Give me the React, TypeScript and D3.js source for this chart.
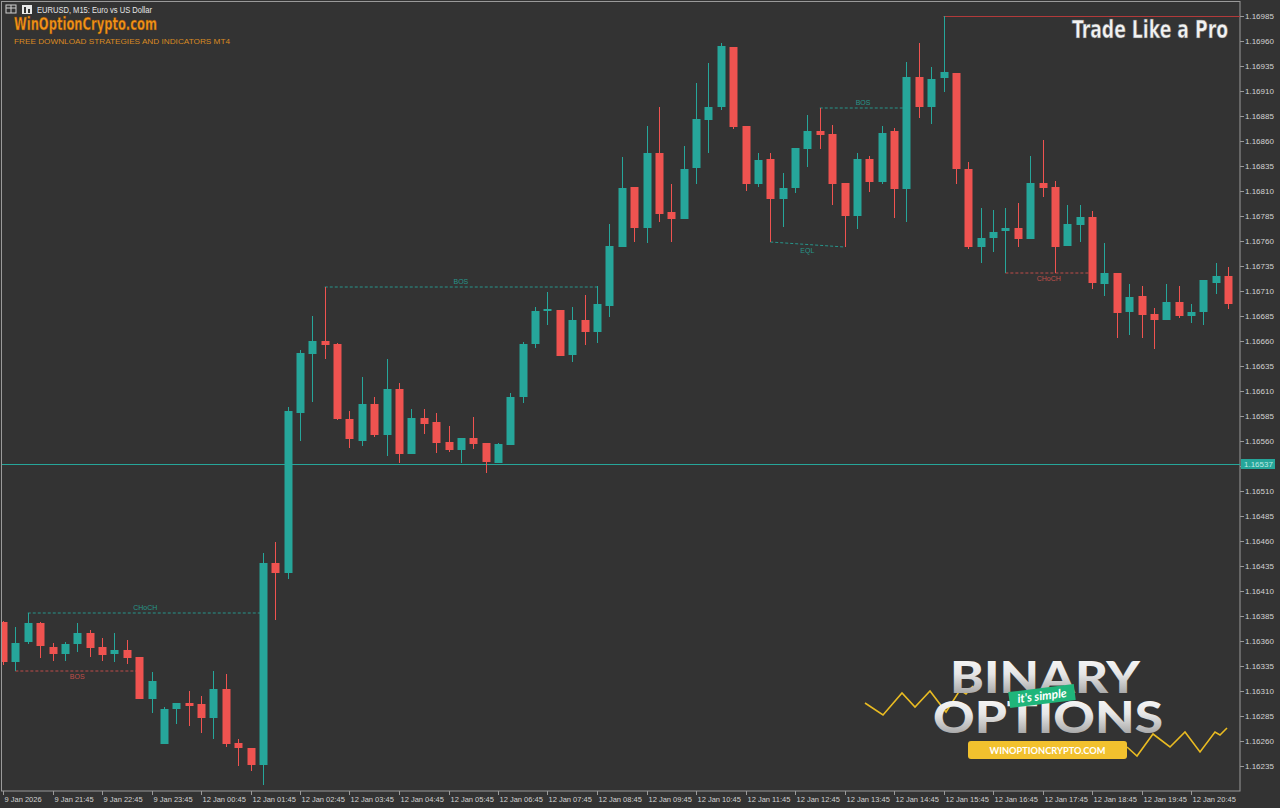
import React from "react";
import * as d3 from "d3";

const W = 1280;
const H = 808;

// ---- Data (EURUSD M15) ----
const opens = [
  1.16379, 1.16339, 1.16359, 1.16378, 1.16354, 1.16347, 1.16357, 1.16368, 1.16354, 1.16347,
  1.16351, 1.16344, 1.16302, 1.16257, 1.16292, 1.16298, 1.16297, 1.16283, 1.16312, 1.16258,
  1.16253, 1.16236, 1.16438, 1.16428, 1.16588, 1.16647, 1.16660, 1.16657, 1.16582, 1.16560,
  1.16597, 1.16566, 1.16612, 1.16547, 1.16583, 1.16579, 1.16559, 1.16551, 1.16563, 1.16558,
  1.16538, 1.16556, 1.16604, 1.16657, 1.16690, 1.16691, 1.16646, 1.16681, 1.16669, 1.16695,
  1.16754, 1.16814, 1.16773, 1.16848, 1.16789, 1.16782, 1.16833, 1.16881, 1.16894, 1.16954,
  1.16875, 1.16817, 1.16842, 1.16802, 1.16813, 1.16852, 1.16870, 1.16867, 1.16818, 1.16785,
  1.16842, 1.16819, 1.16870, 1.16812, 1.16924, 1.16894, 1.16923, 1.16928, 1.16832, 1.16754,
  1.16763, 1.16770, 1.16773, 1.16762, 1.16818, 1.16814, 1.16755, 1.16776, 1.16784, 1.16717,
  1.16728, 1.16689, 1.16705, 1.16687, 1.16681, 1.16699, 1.16685, 1.16689, 1.16718, 1.16725,
];
const highs = [
  1.16380, 1.16374, 1.16388, 1.16379, 1.16358, 1.16359, 1.16378, 1.16371, 1.16363, 1.16368,
  1.16361, 1.16344, 1.16329, 1.16294, 1.16298, 1.16310, 1.16305, 1.16330, 1.16327, 1.16262,
  1.16253, 1.16448, 1.16459, 1.16594, 1.16651, 1.16685, 1.16714, 1.16658, 1.16590, 1.16624,
  1.16604, 1.16642, 1.16618, 1.16592, 1.16592, 1.16588, 1.16575, 1.16563, 1.16584, 1.16558,
  1.16558, 1.16608, 1.16659, 1.16694, 1.16709, 1.16691, 1.16694, 1.16706, 1.16715, 1.16777,
  1.16844, 1.16814, 1.16875, 1.16894, 1.16817, 1.16855, 1.16918, 1.16938, 1.16958, 1.16954,
  1.16875, 1.16848, 1.16848, 1.16828, 1.16853, 1.16886, 1.16893, 1.16876, 1.16818, 1.16848,
  1.16845, 1.16875, 1.16873, 1.16939, 1.16958, 1.16934, 1.16985, 1.16928, 1.16839, 1.16793,
  1.16791, 1.16793, 1.16798, 1.16845, 1.16861, 1.16820, 1.16796, 1.16796, 1.16790, 1.16758,
  1.16728, 1.16717, 1.16715, 1.16693, 1.16717, 1.16715, 1.16697, 1.16721, 1.16738, 1.16734,
];
const lows = [
  1.16336, 1.16330, 1.16357, 1.16343, 1.16340, 1.16340, 1.16349, 1.16344, 1.16340, 1.16339,
  1.16337, 1.16302, 1.16288, 1.16257, 1.16277, 1.16275, 1.16268, 1.16262, 1.16254, 1.16235,
  1.16230, 1.16216, 1.16381, 1.16422, 1.16560, 1.16599, 1.16642, 1.16581, 1.16553, 1.16555,
  1.16564, 1.16545, 1.16538, 1.16547, 1.16567, 1.16548, 1.16549, 1.16538, 1.16552, 1.16528,
  1.16538, 1.16556, 1.16598, 1.16653, 1.16676, 1.16645, 1.16639, 1.16656, 1.16658, 1.16684,
  1.16754, 1.16759, 1.16758, 1.16779, 1.16759, 1.16782, 1.16817, 1.16848, 1.16891, 1.16872,
  1.16810, 1.16814, 1.16759, 1.16774, 1.16808, 1.16834, 1.16852, 1.16796, 1.16754, 1.16772,
  1.16809, 1.16817, 1.16783, 1.16779, 1.16883, 1.16877, 1.16909, 1.16817, 1.16752, 1.16738,
  1.16749, 1.16728, 1.16754, 1.16762, 1.16804, 1.16728, 1.16755, 1.16759, 1.16712, 1.16705,
  1.16663, 1.16666, 1.16663, 1.16652, 1.16681, 1.16683, 1.16678, 1.16676, 1.16707, 1.16692,
];
const closes = [
  1.16339, 1.16358, 1.16378, 1.16355, 1.16347, 1.16357, 1.16368, 1.16353, 1.16346, 1.16351,
  1.16343, 1.16302, 1.16320, 1.16292, 1.16298, 1.16295, 1.16283, 1.16312, 1.16257, 1.16253,
  1.16236, 1.16438, 1.16428, 1.16590, 1.16648, 1.16660, 1.16656, 1.16582, 1.16562, 1.16597,
  1.16566, 1.16612, 1.16547, 1.16583, 1.16577, 1.16558, 1.16551, 1.16563, 1.16557, 1.16539,
  1.16557, 1.16604, 1.16657, 1.16690, 1.16692, 1.16645, 1.16681, 1.16669, 1.16697, 1.16755,
  1.16813, 1.16773, 1.16848, 1.16787, 1.16782, 1.16832, 1.16882, 1.16894, 1.16955, 1.16874,
  1.16817, 1.16841, 1.16802, 1.16813, 1.16853, 1.16870, 1.16866, 1.16817, 1.16785, 1.16842,
  1.16819, 1.16868, 1.16812, 1.16924, 1.16894, 1.16922, 1.16929, 1.16832, 1.16754, 1.16763,
  1.16769, 1.16773, 1.16762, 1.16818, 1.16813, 1.16754, 1.16777, 1.16784, 1.16718, 1.16728,
  1.16688, 1.16704, 1.16686, 1.16681, 1.16699, 1.16685, 1.16689, 1.16721, 1.16725, 1.16697,
];

// time labels, one per hour (every 4th M15 bar)
const timeLabels = [
  "9 Jan 2026", "9 Jan 21:45", "9 Jan 22:45", "9 Jan 23:45",
  "12 Jan 00:45", "12 Jan 01:45", "12 Jan 02:45", "12 Jan 03:45", "12 Jan 04:45",
  "12 Jan 05:45", "12 Jan 06:45", "12 Jan 07:45", "12 Jan 08:45", "12 Jan 09:45",
  "12 Jan 10:45", "12 Jan 11:45", "12 Jan 12:45", "12 Jan 13:45", "12 Jan 14:45",
  "12 Jan 15:45", "12 Jan 16:45", "12 Jan 17:45", "12 Jan 18:45", "12 Jan 19:45",
  "12 Jan 20:45",
];
const timeLabelBars = timeLabels.map((_, i) => i * 4);

// market structure markers
const structLabels = ["CHoCH", "BOS", "BOS", "EQL", "BOS", "CHoCH"];
const structFromBar = [2, 1, 26, 62, 66, 81];
const structToBar = [21, 11, 48, 68, 73, 88];
const structFromPrice = [1.16388, 1.1633, 1.16714, 1.16759, 1.16893, 1.16728];
const structToPrice = [1.16388, 1.1633, 1.16714, 1.16754, 1.16893, 1.16728];
const structBull = [true, false, true, true, true, false];
const structAbove = [true, false, true, false, true, false];

const highLineBar = 76;
const highLinePrice = 1.16985;
const hLinePrice = 1.16537;
const hLineLabel = "1.16537";

const priceMin = 1.16235;
const priceMax = 1.16985;
const priceStep = 0.00025;

// ---- Styles ----
const BG = "#333333";
const TEAL = "#26a69a";
const RED = "#ef5350";
const AXIS = "#9a9a9a";
const TXT = "#d2d2d2";
const ORANGE = "#f39419";
const YELLOW = "#e9bb22";

const PLOT_R = 1240;
const PLOT_B = 791;

const zigLeft: [number, number][] = [
  [865, 703], [883, 715], [902, 693], [915, 707], [930, 691], [946, 712], [960, 690], [966, 694], [973, 686],
];
const zigRight: [number, number][] = [
  [1127, 747], [1137, 756], [1153, 734], [1170, 747], [1185, 732], [1200, 752], [1215, 732], [1220, 735], [1227, 728],
];

export default function App() {
  const x = d3.scaleLinear().domain([0, 99]).range([3, 3 + 99 * 12.375]);
  const y = d3.scaleLinear().domain([priceMin, priceMax]).range([766, 16]);
  const bars = d3.range(opens.length);
  const priceTicks = d3.range(0, Math.round((priceMax - priceMin) / priceStep) + 1).map((k) => priceMax - k * priceStep);
  const line = d3.line<[number, number]>();
  const fmt = d3.format(".5f");
  const bodyW = 8;

  return (
    <svg
      width={W}
      height={H}
      style={{ position: "absolute", left: 0, top: 0, display: "block" }}
      fontFamily="'Liberation Sans', Arial, sans-serif"
    >
      <defs>
        <linearGradient id="logoGrad" x1="0" y1="0" x2="0" y2="1">
          <stop offset="0%" stopColor="#ffffff" />
          <stop offset="45%" stopColor="#e6e6e6" />
          <stop offset="100%" stopColor="#8e8e8e" />
        </linearGradient>
        <clipPath id="plotClip">
          <rect x={2} y={2} width={PLOT_R - 2} height={PLOT_B - 2} />
        </clipPath>
      </defs>
      <rect x={0} y={0} width={W} height={H} fill={BG} />

      {/* plot frame */}
      <rect x={1.5} y={1.5} width={PLOT_R - 1.5} height={PLOT_B - 1.5} fill="none" stroke={AXIS} strokeWidth={1} />

      <g clipPath="url(#plotClip)">
        {/* current horizontal level */}
        <line x1={2} x2={PLOT_R} y1={Math.round(y(hLinePrice)) + 0.5} y2={Math.round(y(hLinePrice)) + 0.5} stroke={TEAL} strokeWidth={1} />
        {/* high line */}
        <line x1={x(highLineBar)} x2={PLOT_R} y1={Math.round(y(highLinePrice)) + 0.5} y2={Math.round(y(highLinePrice)) + 0.5} stroke="#b23a3a" strokeWidth={1.2} />

        {/* structure markers */}
        {structLabels.map((lab, i) => {
          const c = structBull[i] ? TEAL : "#d9534f";
          const x1 = x(structFromBar[i]);
          const x2 = x(structToBar[i]);
          const y1 = y(structFromPrice[i]);
          const y2 = y(structToPrice[i]);
          const mx = (x1 + x2) / 2;
          const my = (y1 + y2) / 2;
          return (
            <g key={"s" + i} opacity={0.85}>
              <line x1={x1} x2={x2} y1={y1} y2={y2} stroke={c} strokeWidth={1} strokeDasharray="3,2" />
              <text x={mx} y={structAbove[i] ? my - 3 : my + 8} fill={c} fontSize={7} textAnchor="middle">
                {lab}
              </text>
            </g>
          );
        })}

        {/* candles */}
        {bars.map((i) => {
          const up = closes[i] >= opens[i];
          const c = up ? TEAL : RED;
          const cx = Math.round(x(i)) + 0.5;
          const top = y(Math.max(opens[i], closes[i]));
          const bot = y(Math.min(opens[i], closes[i]));
          return (
            <g key={"c" + i}>
              <line x1={cx} x2={cx} y1={y(highs[i])} y2={y(lows[i])} stroke={c} strokeWidth={1} />
              <rect x={cx - bodyW / 2} y={top} width={bodyW} height={Math.max(2, bot - top)} fill={c} />
            </g>
          );
        })}
      </g>

      {/* price axis */}
      {priceTicks.map((p, i) => (
        <g key={"p" + i}>
          <line x1={PLOT_R} x2={PLOT_R + 4} y1={Math.round(y(p)) + 0.5} y2={Math.round(y(p)) + 0.5} stroke={AXIS} />
          <text x={PLOT_R + 5} y={y(p) + 3} fill={TXT} fontSize={8}>
            {fmt(p)}
          </text>
        </g>
      ))}
      <rect x={PLOT_R + 1} y={y(hLinePrice) - 5} width={34} height={10} fill={TEAL} />
      <text x={PLOT_R + 4} y={y(hLinePrice) + 3} fill="#bfe9e4" fontSize={8}>
        {hLineLabel}
      </text>

      {/* time axis */}
      {timeLabelBars.map((b, i) => {
        const tx = Math.round(x(b)) + 0.5;
        return (
          <g key={"t" + i}>
            <line x1={tx} x2={tx} y1={PLOT_B} y2={PLOT_B + 4} stroke={AXIS} />
            <text x={tx + 1} y={802} fill={TXT} fontSize={7.5}>
              {timeLabels[i]}
            </text>
          </g>
        );
      })}

      {/* header */}
      <rect x={6} y={5} width={10} height={8} fill="none" stroke="#cfcfcf" strokeWidth={1} />
      <line x1={6} x2={16} y1={8} y2={8} stroke="#cfcfcf" />
      <line x1={11} x2={11} y1={5} y2={13} stroke="#cfcfcf" />
      <rect x={22} y={5} width={10} height={9} fill="#e8e8e8" />
      <rect x={24} y={7} width={2} height={6} fill="#333" />
      <rect x={28} y={9} width={2} height={4} fill="#333" />
      <text x={37} y={13} fill="#e6e6e6" fontSize={8.5} textLength={115} lengthAdjust="spacingAndGlyphs">
        EURUSD, M15:  Euro vs US Dollar
      </text>
      <text
        x={14}
        y={30}
        fill={ORANGE}
        fontSize={18}
        fontWeight="bold"
        fontFamily="'Liberation Sans Narrow', 'DejaVu Sans Condensed', sans-serif"
        textLength={143}
        lengthAdjust="spacingAndGlyphs"
        stroke="#7a3f00"
        strokeWidth={0.4}
      >
        WinOptionCrypto.com
      </text>
      <text x={14} y={44} fill="#d98a22" fontSize={7} textLength={216} lengthAdjust="spacingAndGlyphs">
        FREE DOWNLOAD STRATEGIES AND INDICATORS MT4
      </text>

      <g transform="translate(1072,38) scale(1,1.2)">
        <text
          x={0}
          y={0}
          fill="#f2f2f2"
          fontSize={20}
          fontWeight="bold"
          fontFamily="'Liberation Sans Narrow', 'DejaVu Sans Condensed', sans-serif"
          textLength={156}
          lengthAdjust="spacingAndGlyphs"
          stroke="#555"
          strokeWidth={0.4}
        >
          Trade Like a Pro
        </text>
      </g>

      {/* logo */}
      <path d={line(zigLeft) || ""} fill="none" stroke={YELLOW} strokeWidth={1.6} />
      <path d={line(zigRight) || ""} fill="none" stroke={YELLOW} strokeWidth={1.6} />
      <text
        x={950}
        y={693}
        fill="url(#logoGrad)"
        fontSize={43}
        fontWeight={900}
        fontFamily="Lato, Inter, 'DejaVu Sans', sans-serif"
        textLength={190}
        lengthAdjust="spacingAndGlyphs"
      >
        BINARY
      </text>
      <text
        x={933}
        y={733}
        fill="url(#logoGrad)"
        fontSize={43}
        fontWeight={900}
        fontFamily="Lato, Inter, 'DejaVu Sans', sans-serif"
        textLength={230}
        lengthAdjust="spacingAndGlyphs"
      >
        OPTIONS
      </text>
      <g transform="rotate(-7 1042 696)">
        <rect x={1009} y={688} width={66} height={16} fill="#1fb57a" />
        <text
          x={1042}
          y={700}
          fill="#ffffff"
          fontSize={12}
          fontStyle="italic"
          fontWeight="bold"
          textAnchor="middle"
          fontFamily="Lato, 'Liberation Sans', sans-serif"
        >
          it's simple
        </text>
      </g>
      <rect x={968} y={741} width={159} height={18} rx={3} fill="#f2c12e" />
      <text
        x={1047.5}
        y={754}
        fill="#ffffff"
        fontSize={10}
        fontWeight="bold"
        textAnchor="middle"
        fontFamily="Lato, 'Liberation Sans', sans-serif"
        textLength={116}
        lengthAdjust="spacingAndGlyphs"
      >
        WINOPTIONCRYPTO.COM
      </text>
    </svg>
  );
}
